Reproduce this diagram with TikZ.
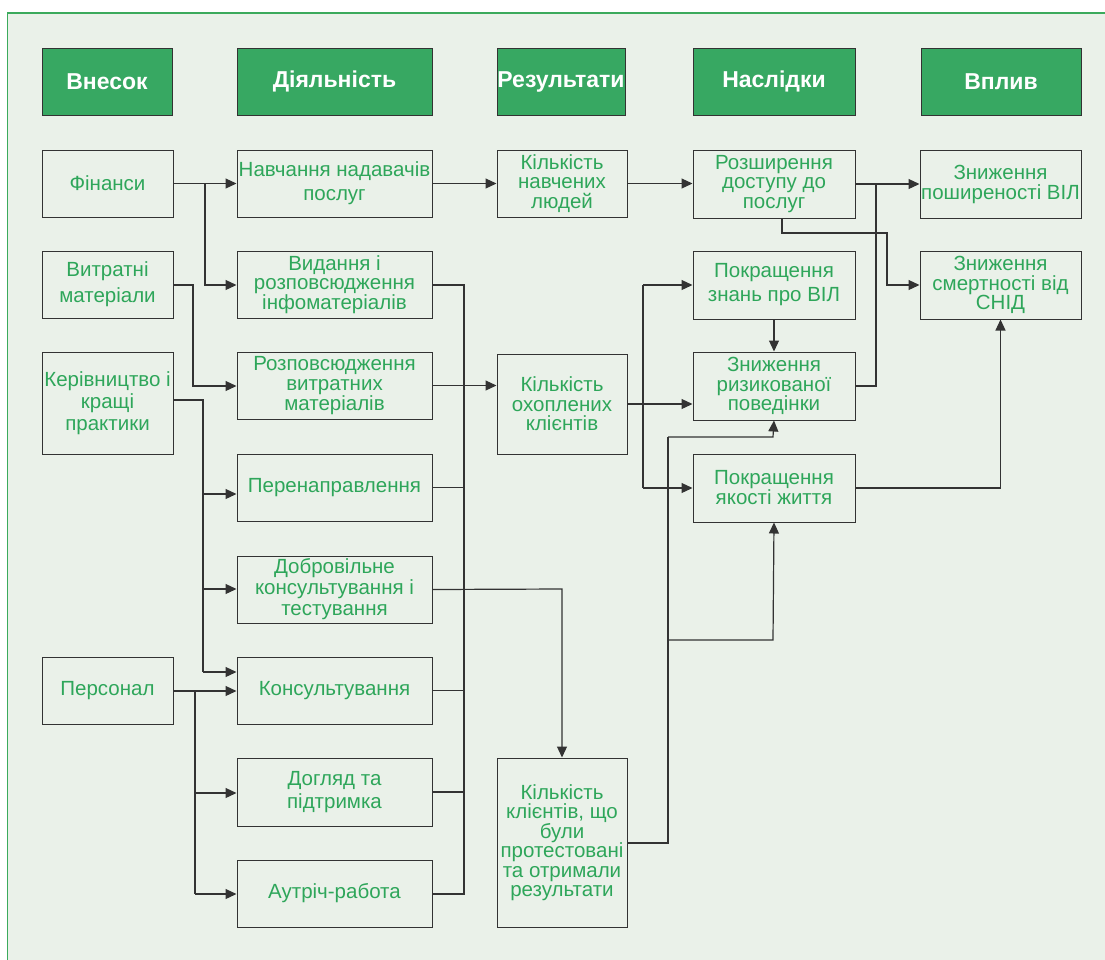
\documentclass[tikz,border=0pt]{standalone}
\usepackage{fontspec}
\setmainfont{Liberation Sans}
\usetikzlibrary{arrows.meta}
\definecolor{bgg}{HTML}{EAF1E9}
\definecolor{frameg}{HTML}{3BAA5C}
\definecolor{headg}{HTML}{37A862}
\definecolor{txtg}{HTML}{2EA65A}
\definecolor{linec}{HTML}{333333}
\tikzset{
  box/.style={draw=linec, line width=1pt, fill=bgg, text=txtg, align=center, inner sep=0pt,
    font=\fontsize{20.5}{19.5}\selectfont},
  lead/.style={font=\fontsize{20.5}{#1}\selectfont},
  head/.style={draw=linec, line width=1pt, fill=headg, text=white, align=center, inner sep=0pt,
    font=\fontsize{23}{26}\selectfont\bfseries},
  conn/.style={draw=linec, line width=1.2pt},
  arr/.style={conn, -{Triangle[length=11pt,width=10pt]}}
}
\newcommand{\bx}[7]{\node[#1, minimum width={#4-#2}, minimum height={#5-#3}] (#6) at ({(#2+#4)/2},{(#3+#5)/2}) {#7};}
\begin{document}
\begin{tikzpicture}[x=1pt,y=-1pt]
\useasboundingbox (0,0) rectangle (1105,959);
\fill[white] (0,0) rectangle (1105,959);
\begin{scope}
\clip (0,0) rectangle (1105,959);
\draw[frameg, line width=1.6pt, fill=bgg] (7.5,13) rectangle (1130,990);
\end{scope}
% headers
\bx{head}{42}{48}{172}{115}{h1}{Внесок}
\bx{head}{237}{48}{432}{115}{h2}{Діяльність}
\bx{head}{497}{48}{625}{115}{h3}{Результати}
\bx{head}{693}{48}{855}{115}{h4}{Наслідки}
\bx{head}{921}{48}{1081}{115}{h5}{Вплив}
% column 1
\bx{box}{42}{150}{173}{217}{fin}{Фінанси}
\bx{box,lead=26}{42}{251}{173}{318}{vytr}{Витратні\\матеріали}
\bx{box,lead=22}{42}{352}{173}{454}{ker}{Керівництво і\\кращі\\практики}
\bx{box}{42}{657}{173}{724}{pers}{Персонал}
% column 2
\bx{box,lead=24}{237}{150}{432}{217}{navch}{Навчання надавачів\\послуг}
\bx{box}{237}{251}{432}{318}{vyd}{Видання і\\розповсюдження\\інфоматеріалів}
\bx{box,lead=20}{237}{352}{432}{419}{rozp}{Розповсюдження\\витратних\\матеріалів}
\bx{box}{237}{454}{432}{521}{pere}{Перенаправлення}
\bx{box,lead=21}{237}{556}{432}{623}{dobr}{Добровільне\\консультування і\\тестування}
\bx{box}{237}{657}{432}{724}{kons}{Консультування}
\bx{box,lead=23}{237}{758}{432}{826}{dohl}{Догляд та\\підтримка}
\bx{box}{237}{860}{432}{927}{autr}{Аутріч-работа}
% column 3
\bx{box}{497}{150}{627}{217}{kn}{Кількість\\навчених\\людей}
\bx{box}{497}{354}{627}{454}{ko}{Кількість\\охоплених\\клієнтів}
\bx{box}{497}{758}{627}{927}{kt}{Кількість\\клієнтів, що\\були\\протестовані\\та отримали\\результати}
% column 4
\bx{box}{693}{150}{855}{218}{rozsh}{Розширення\\доступу до\\послуг}
\bx{box,lead=24}{693}{251}{855}{319}{znan}{Покращення\\знань про ВІЛ}
\bx{box}{693}{352}{855}{420}{ryz}{Зниження\\ризикованої\\поведінки}
\bx{box,lead=20}{693}{454}{855}{522}{yak}{Покращення\\якості життя}
% column 5
\bx{box,lead=20}{920}{150}{1081}{218}{posh}{Зниження\\поширеності ВІЛ}
\bx{box}{920}{251}{1081}{319}{smert}{Зниження\\смертності від\\СНІД}
% coordinates
\coordinate (f1) at (205,184);
\coordinate (f2) at (205,285);
\coordinate (v1) at (193,285);
\coordinate (v2) at (193,386);
\coordinate (k1) at (203,400);
\coordinate (k2) at (203,494);
\coordinate (k3) at (203,589);
\coordinate (k4) at (203,672);
\coordinate (p1) at (195,691);
\coordinate (p2) at (195,793);
\coordinate (p3) at (195,894);
\coordinate (b1) at (464,285);
\coordinate (b2) at (464,894);
\coordinate (d1) at (562,589);
\coordinate (r1) at (643,285);
\coordinate (r2) at (643,488);
\coordinate (t1) at (668,843);
\coordinate (t2) at (668,437);
\coordinate (t3) at (773,437);
\coordinate (t4) at (668,640);
\coordinate (t5) at (773,640);
\coordinate (s1) at (876,184);
\coordinate (s2) at (876,386);
\coordinate (e0) at (782,218);
\coordinate (e1) at (782,233);
\coordinate (e2) at (887,233);
\coordinate (e3) at (887,285);
% inputs
\draw[arr] (fin.east) -- (navch.west);
\draw[arr] (f1) -- (f2) -- (vyd.west |- f2);
\draw[arr] (vytr.east |- v1) -- (v1) -- (v2) -- (rozp.west |- v2);
\draw[conn] (ker.east |- k1) -- (k1) -- (k4);
\draw[arr] (k2) -- (pere.west |- k2);
\draw[arr] (k3) -- (dobr.west |- k3);
\draw[arr] (k4) -- (kons.west |- k4);
\draw[arr] (pers.east |- p1) -- (kons.west |- p1);
\draw[conn] (p1) -- (p3);
\draw[arr] (p2) -- (dohl.west |- p2);
\draw[arr] (p3) -- (autr.west |- p3);
% activity bus
\draw[conn] (vyd.east |- b1) -- (b1) -- (b2) -- (autr.east |- b2);
\draw[conn] (pere.east) -- (pere.east -| b1);
\draw[conn] (kons.east) -- (kons.east -| b1);
\draw[conn] (dohl.east) -- (dohl.east -| b1);
\draw[arr] (rozp.east) -- (ko.west |- rozp.east);
\draw[arr] (dobr.east) -- (d1) -- (kt.north);
% results
\draw[arr] (navch.east) -- (kn.west);
\draw[arr] (kn.east) -- (rozsh.west |- kn.east);
\draw[arr] (ko.east) -- (ryz.west |- ko.east);
\draw[conn] (r1) -- (r2);
\draw[arr] (r1) -- (znan.west);
\draw[arr] (r2) -- (yak.west);
\draw[arr] (znan.south) -- (ryz.north);
\draw[conn] (kt.east |- t1) -- (t1) -- (t2);
\draw[arr] (t2) -- (t3) -- (ryz.south);
\draw[arr] (t4) -- (t5) -- (yak.south);
% outcomes
\draw[arr] (rozsh.east) -- (posh.west |- rozsh.east);
\draw[conn] (ryz.east) -- (s2) -- (s1);
\draw[arr] (e0) -- (e1) -- (e2) -- (e3) -- (smert.west);
\draw[arr] (yak.east) -| (smert.south);
\end{tikzpicture}
\end{document}
